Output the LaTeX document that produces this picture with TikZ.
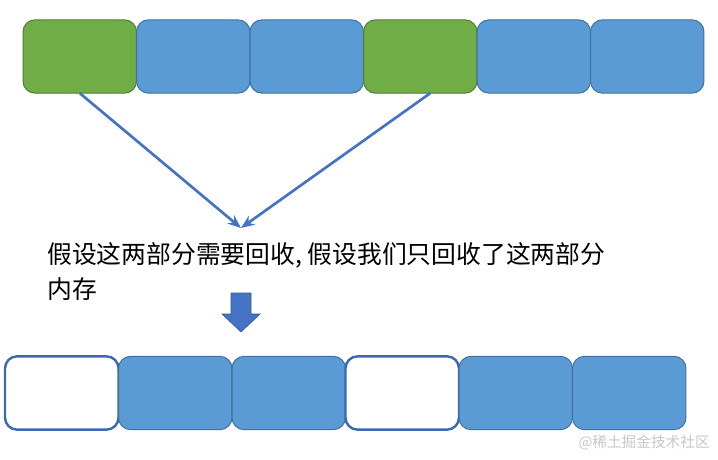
\documentclass[tikz,border=0pt]{standalone}
\usepackage{fontspec}
\setmainfont{Noto Sans CJK SC}
\usepackage{xcolor}
\usepackage{tikz}
\usetikzlibrary{arrows.meta, positioning}

\definecolor{blkgreen}{HTML}{70AD47}
\definecolor{blkgreenline}{HTML}{507E32}
\definecolor{blkblue}{HTML}{5B9BD5}
\definecolor{blkblueline}{HTML}{41719C}
\definecolor{arrblue}{HTML}{4472C4}

\begin{document}
\begin{tikzpicture}[
    x=0.75pt, y=-0.75pt,
    blk/.style={rectangle, draw, rounded corners=9pt, minimum width=85.1pt,
                minimum height=55pt, inner sep=0pt, outer sep=0pt, line width=0.75pt},
    used/.style={blk, fill=blkblue, draw=blkblueline},
    freed/.style={blk, fill=blkgreen, draw=blkgreenline},
    empty/.style={blk, fill=white, draw=arrblue!90!black, line width=1.8pt},
    arr/.style={-{Stealth[length=10pt, width=8pt]}, line width=2pt, draw=arrblue},
]
\useasboundingbox (0,0) rectangle (718,460);

% memory before
\node[freed] (t1) at (79.75,56.5)  {};
\node[used]  (t2) at (193.25,56.5) {};
\node[used]  (t3) at (306.75,56.5) {};
\node[freed] (t4) at (420.25,56.5) {};
\node[used]  (t5) at (533.75,56.5) {};
\node[used]  (t6) at (647.25,56.5) {};

\coordinate (hit) at (241,228);
\draw[arr] (t1.south) -- (hit);
\draw[arr] ([xshift=7.5pt]t4.south) -- (hit);

\node[anchor=north west, inner sep=0pt, align=left, font=\fontsize{18.6pt}{26.25pt}\selectfont]
    (note) at (47,242) {假设这两部分需要回收, 假设我们只回收了这两部分\\内存};

% block arrow
\coordinate (down) at (241,293);
\fill[arrblue, draw=arrblue!80!black, line width=0.5pt]
    ([xshift=-7.5pt]down) -- ([xshift=7.5pt]down) -- ++(0,21) -- ++(6.75pt,0)
    -- (241,332) -- (222,314) -- ++(6.75pt,0) -- cycle;

% memory after
\node[empty] (b1) at (61.75,393)  {};
\node[used]  (b2) at (175.25,393) {};
\node[used]  (b3) at (288.75,393) {};
\node[empty] (b4) at (402.25,393) {};
\node[used]  (b5) at (515.75,393) {};
\node[used]  (b6) at (629.25,393) {};

\node[anchor=east, inner sep=0pt, text=black!22, font=\fontsize{11pt}{12pt}\selectfont]
    (mark) at (710,443) {@稀土掘金技术社区};
\end{tikzpicture}
\end{document}
